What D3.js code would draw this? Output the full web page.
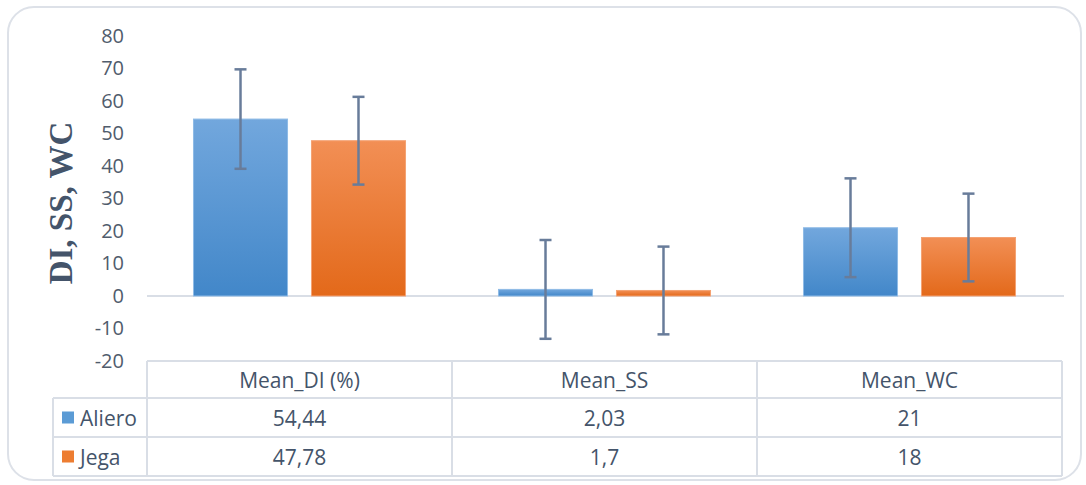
<!DOCTYPE html>
<html>
<head>
<meta charset="utf-8">
<script src="https://cdn.jsdelivr.net/npm/d3@7"></script>
<style>
  body { margin: 0; background: #fff; }
  svg { display: block; }
</style>
</head>
<body>
<svg id="chart"></svg>
<script>
const categories = ["Mean_DI (%)", "Mean_SS", "Mean_WC"];
const seriesNames = ["Aliero", "Jega"];
const alieroValues = [54.44, 2.03, 21];
const jegaValues = [47.78, 1.7, 18];
const alieroErrors = [15.3, 15.2, 15.2];
const jegaErrors = [13.5, 13.5, 13.5];
const alieroLabels = ["54,44", "2,03", "21"];
const jegaLabels = ["47,78", "1,7", "18"];
const yTicks = [-20, -10, 0, 10, 20, 30, 40, 50, 60, 70, 80];

const w = 1086;
const h = 485;
const plotLeft = 147, plotRight = 1062, plotTop = 36, plotBottom = 361;
const rows = [361, 398, 437, 476];
const legendLeft = 53;

const colors = { Aliero: ["#72a7dd", "#4287c9"], Jega: ["#f28f55", "#e3691a"] };
const keyColors = { Aliero: "#5b9bd5", Jega: "#ed7d31" };
const lineColor = "#d9dee6";
const textColor = "#44546a";

const svg = d3.select("#chart").attr("width", w).attr("height", h);

// outer rounded frame
svg.append("rect")
  .attr("x", 8).attr("y", 7).attr("width", 1073).attr("height", 473)
  .attr("rx", 26).attr("fill", "#fff").attr("stroke", "#dde1e8").attr("stroke-width", 2);

const defs = svg.append("defs");
seriesNames.forEach((s) => {
  const g = defs.append("linearGradient").attr("id", "grad-" + s)
    .attr("x1", 0).attr("y1", 0).attr("x2", 0).attr("y2", 1);
  g.append("stop").attr("offset", "0%").attr("stop-color", colors[s][0]);
  g.append("stop").attr("offset", "100%").attr("stop-color", colors[s][1]);
});

const xScale = d3.scaleBand().domain(categories).range([plotLeft, plotRight]);
const xInner = d3.scaleBand().domain(seriesNames).range([0, xScale.bandwidth()])
  .paddingInner(0.203).paddingOuter(0.394);
const yScale = d3.scaleLinear().domain([-20, 80]).range([plotBottom, plotTop]);

// y axis labels
const yAxis = d3.axisLeft(yScale).tickValues(yTicks).tickSize(0).tickPadding(0)
  .tickFormat((d) => String(d));
const yg = svg.append("g").attr("transform", "translate(124,0)").call(yAxis);
yg.select(".domain").remove();
yg.selectAll("text")
  .attr("font-family", "'Open Sans', sans-serif")
  .attr("font-size", 20)
  .attr("fill", "#505c6c");

// y axis title
svg.append("text")
  .attr("transform", "translate(72,203) rotate(-90)")
  .attr("text-anchor", "middle")
  .attr("font-family", "'Liberation Serif', 'Times New Roman', serif")
  .attr("font-weight", "bold")
  .attr("font-size", 33)
  .attr("fill", textColor)
  .text("DI, SS, WC");

// zero line
svg.append("line")
  .attr("x1", plotLeft).attr("x2", plotRight + 2)
  .attr("y1", yScale(0)).attr("y2", yScale(0))
  .attr("stroke", lineColor).attr("stroke-width", 2);

const data = categories.map((c, i) => ({
  cat: c,
  items: [
    { s: "Aliero", v: alieroValues[i], e: alieroErrors[i] },
    { s: "Jega", v: jegaValues[i], e: jegaErrors[i] },
  ],
}));

const groups = svg.selectAll(".grp").data(data).enter().append("g")
  .attr("transform", (d) => `translate(${xScale(d.cat)},0)`);

groups.selectAll("rect").data((d) => d.items).enter().append("rect")
  .attr("x", (d) => xInner(d.s))
  .attr("width", xInner.bandwidth())
  .attr("y", (d) => yScale(Math.max(0, d.v)))
  .attr("height", (d) => Math.abs(yScale(d.v) - yScale(0)))
  .attr("fill", (d) => `url(#grad-${d.s})`)
  .attr("stroke", (d) => (d.s === "Aliero" ? "#8fbbe6" : "#f4a273"))
  .attr("stroke-width", 1);

// error bars
const errColor = "#687c9a";
const eb = groups.selectAll(".err").data((d) => d.items).enter().append("g");
eb.append("line")
  .attr("x1", (d) => xInner(d.s) + xInner.bandwidth() / 2)
  .attr("x2", (d) => xInner(d.s) + xInner.bandwidth() / 2)
  .attr("y1", (d) => yScale(d.v + d.e))
  .attr("y2", (d) => yScale(d.v - d.e))
  .attr("stroke", errColor).attr("stroke-width", 2.5);
[1, -1].forEach((sign) => {
  eb.append("line")
    .attr("x1", (d) => xInner(d.s) + xInner.bandwidth() / 2 - 6)
    .attr("x2", (d) => xInner(d.s) + xInner.bandwidth() / 2 + 6)
    .attr("y1", (d) => yScale(d.v + sign * d.e))
    .attr("y2", (d) => yScale(d.v + sign * d.e))
    .attr("stroke", errColor).attr("stroke-width", 2.5);
});

// data table
const table = svg.append("g")
  .attr("stroke", lineColor).attr("stroke-width", 2);
table.append("line").attr("x1", plotLeft).attr("x2", plotRight).attr("y1", rows[0]).attr("y2", rows[0]);
rows.slice(1).forEach((y) => {
  table.append("line").attr("x1", legendLeft).attr("x2", plotRight).attr("y1", y).attr("y2", y);
});
table.append("line").attr("x1", legendLeft).attr("x2", legendLeft).attr("y1", rows[1]).attr("y2", rows[3]);
categories.forEach((c) => {
  table.append("line").attr("x1", xScale(c)).attr("x2", xScale(c)).attr("y1", rows[0]).attr("y2", rows[3]);
});
table.append("line").attr("x1", plotRight).attr("x2", plotRight).attr("y1", rows[0]).attr("y2", rows[3]);

const textStyle = (sel) => sel
  .attr("font-family", "'Open Sans', sans-serif")
  .attr("font-size", 21)
  .attr("fill", textColor)
  .attr("dominant-baseline", "central");

categories.forEach((c, i) => {
  const cx = xScale(c) + xScale.bandwidth() / 2;
  svg.append("text").call(textStyle).attr("text-anchor", "middle")
    .attr("x", cx).attr("y", (rows[0] + rows[1]) / 2).text(c);
  svg.append("text").call(textStyle).attr("text-anchor", "middle")
    .attr("x", cx).attr("y", (rows[1] + rows[2]) / 2).text(alieroLabels[i]);
  svg.append("text").call(textStyle).attr("text-anchor", "middle")
    .attr("x", cx).attr("y", (rows[2] + rows[3]) / 2).text(jegaLabels[i]);
});

seriesNames.forEach((s, i) => {
  const cy = (rows[i + 1] + rows[i + 2]) / 2;
  svg.append("rect").attr("x", 62).attr("y", cy - 6).attr("width", 12).attr("height", 12)
    .attr("fill", keyColors[s]);
  svg.append("text").call(textStyle).attr("x", 80).attr("y", cy).text(s);
});
</script>
</body>
</html>
